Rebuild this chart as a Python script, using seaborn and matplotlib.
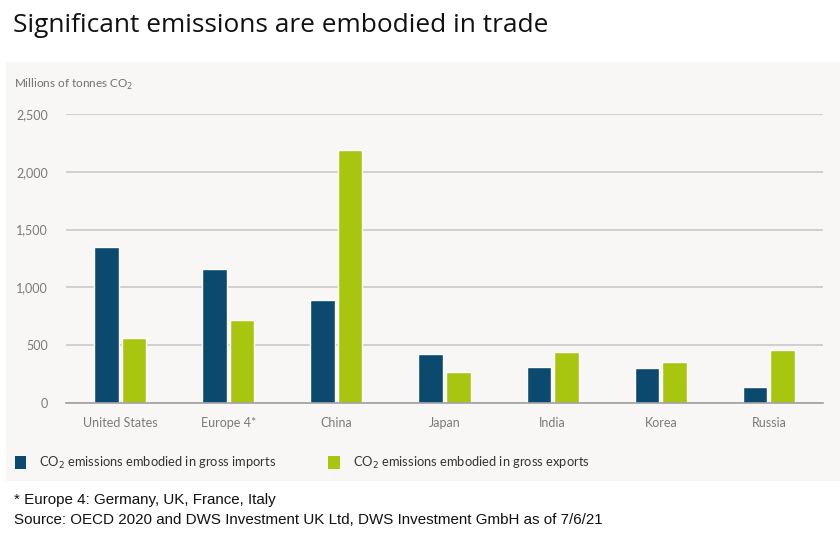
import numpy as np
import pandas as pd
import matplotlib
matplotlib.use("Agg")
import matplotlib.pyplot as plt
from matplotlib.patches import Rectangle, Patch
from matplotlib.ticker import FuncFormatter
import seaborn as sns

# Data (millions of tonnes CO2)
countries = ["United States", "Europe 4*", "China", "Japan", "India", "Korea", "Russia"]
imports = [1350, 1160, 890, 428, 314, 305, 136]
exports = [562, 718, 2190, 271, 441, 355, 456]
series = ["CO$_2$ emissions embodied in gross imports", "CO$_2$ emissions embodied in gross exports"]
colors = ["#0b4a6e", "#a8c60f"]

df = pd.DataFrame({
    "country": countries * 2,
    "series": [series[0]] * len(countries) + [series[1]] * len(countries),
    "value": imports + exports,
})

sns.set_theme(style="white")
plt.rcParams["font.family"] = ["Lato", "DejaVu Sans"]

fig = plt.figure(figsize=(8.4, 5.38), dpi=100)
W, H = 840, 538

# light panel behind the chart
fig.patches.append(Rectangle((6 / W, 1 - 481 / H), 1 - 6 / W, (481 - 62) / H,
                             transform=fig.transFigure, facecolor="#f8f7f5",
                             edgecolor="none", zorder=-5))

ax = fig.add_axes([66 / W, 1 - 403 / H, (823 - 66) / W, (403 - 114) / H])
ax.set_facecolor("none")

sns.barplot(data=df, x="country", y="value", hue="series", palette=colors,
            width=0.51, gap=0.11, saturation=1, ax=ax, legend=False, zorder=3)

ax.set_xlim(-0.5, len(countries) - 0.5)
ax.set_ylim(0, 2500)
ax.set_yticks([0, 500, 1000, 1500, 2000, 2500])
ax.yaxis.set_major_formatter(FuncFormatter(lambda v, p: f"{int(v):,}"))
ax.grid(axis="y", color="#c9c9c9", linewidth=1.2, zorder=1)
ax.grid(axis="x", visible=False)

for s in ["top", "right", "left"]:
    ax.spines[s].set_visible(False)
ax.spines["bottom"].set_color("#a0a0a0")
ax.spines["bottom"].set_linewidth(1.2)
ax.spines["bottom"].set_zorder(4)

ax.tick_params(axis="y", length=0, pad=13, labelsize=9, labelcolor="#7a7a7a")
ax.tick_params(axis="x", which="major", length=0, pad=10, labelsize=9, labelcolor="#7a7a7a")
ax.set_xticks(np.arange(-0.5, len(countries), 1.0), minor=True)
ax.tick_params(axis="x", which="minor", length=6, width=1.2, color="#a0a0a0", direction="out")
ax.set_xlabel("")
ax.set_ylabel("")

# unit label
fig.text(14 / W, 1 - 84 / H, "Millions of tonnes CO$_2$", fontsize=8.5, color="#707070",
         va="center", ha="left")

# title
fig.text(13 / W, 1 - 25 / H, "Significant emissions are embodied in trade",
         fontsize=18.9, color="#111111", va="center", ha="left",
         family=["Open Sans", "DejaVu Sans"])

# legend
handles = [Patch(facecolor=c, edgecolor="none") for c in colors]
fig.legend(handles, series, loc="center left", bbox_to_anchor=(3 / W, 1 - 463 / H),
           ncol=2, frameon=False, fontsize=9.3, labelcolor="#333333",
           handlelength=0.9, handleheight=1.1, handletextpad=1.0, columnspacing=4.0)

# footnotes
fig.text(14 / W, 1 - 500 / H, "* Europe 4: Germany, UK, France, Italy", fontsize=10.9,
         color="#111111", va="center", ha="left", family=["Liberation Sans", "DejaVu Sans"])
fig.text(14 / W, 1 - 520 / H,
         "Source: OECD 2020 and DWS Investment UK Ltd, DWS Investment GmbH as of 7/6/21",
         fontsize=10.9, color="#111111", va="center", ha="left",
         family=["Liberation Sans", "DejaVu Sans"])

fig.savefig("out.png", dpi=100, facecolor="white")
